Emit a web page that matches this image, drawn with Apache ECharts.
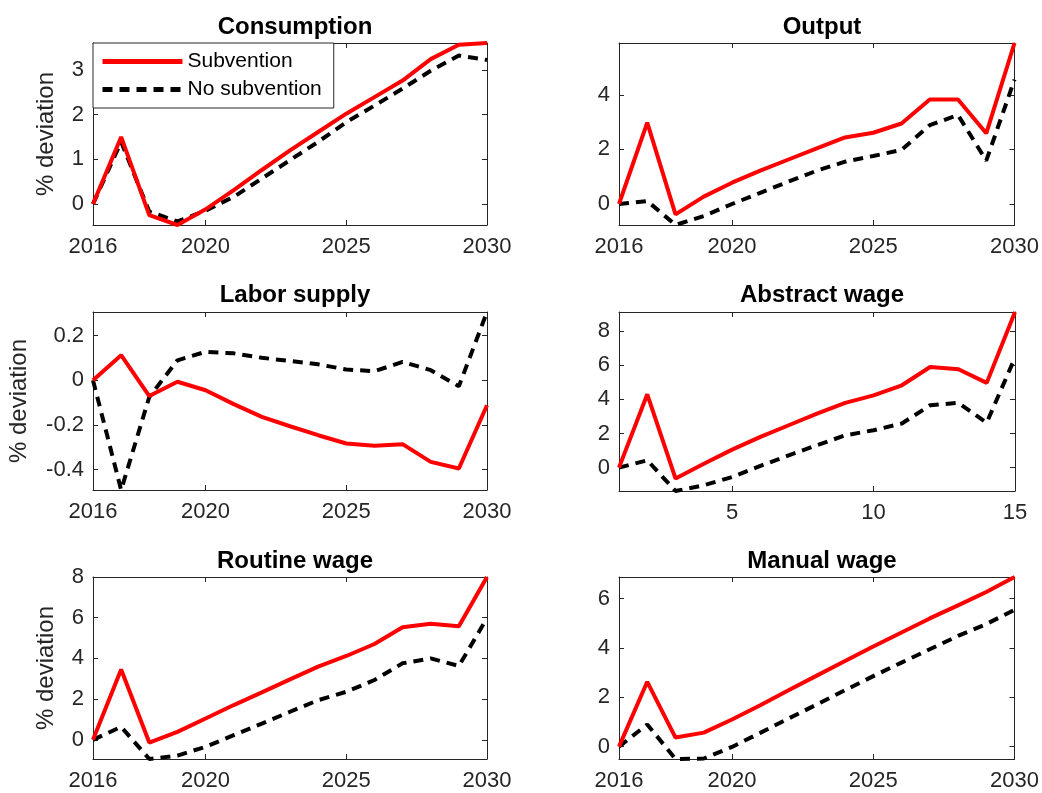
<!DOCTYPE html>
<html>
<head>
<meta charset="utf-8">
<script src="https://cdn.jsdelivr.net/npm/echarts@6/dist/echarts.min.js"></script>
<style>
  html, body { margin: 0; padding: 0; background: #fff; }
  #main { width: 1042px; height: 793px; }
</style>
</head>
<body>
<div id="main"></div>
<script>
// x values
const years = [2016, 2017, 2018, 2019, 2020, 2021, 2022, 2023, 2024, 2025, 2026, 2027, 2028, 2029, 2030];
const periods = [1, 2, 3, 4, 5, 6, 7, 8, 9, 10, 11, 12, 13, 14, 15];
const yearTicks = [2016, 2020, 2025, 2030];
const periodTicks = [5, 10, 15];

// series values
const consumptionSub = [0, 1.5, -0.25, -0.47, -0.12, 0.31, 0.76, 1.2, 1.61, 2.02, 2.39, 2.76, 3.24, 3.56, 3.6];
const consumptionNoSub = [0, 1.39, -0.17, -0.39, -0.15, 0.16, 0.57, 0.98, 1.39, 1.83, 2.2, 2.58, 2.98, 3.32, 3.22];
const outputSub = [0, 2.98, -0.38, 0.27, 0.78, 1.22, 1.63, 2.04, 2.44, 2.61, 2.95, 3.83, 3.83, 2.59, 5.9];
const outputNoSub = [0, 0.11, -0.77, -0.44, 0.0, 0.41, 0.82, 1.22, 1.55, 1.76, 1.98, 2.89, 3.26, 1.59, 4.56];
const laborSub = [0, 0.112, -0.071, -0.007, -0.045, -0.107, -0.164, -0.206, -0.246, -0.283, -0.293, -0.286, -0.365, -0.395, -0.112];
const laborNoSub = [0, -0.491, -0.075, 0.089, 0.127, 0.12, 0.1, 0.086, 0.071, 0.048, 0.04, 0.082, 0.045, -0.027, 0.305];
const abstractSub = [0, 4.29, -0.64, 0.23, 1.05, 1.8, 2.48, 3.16, 3.79, 4.23, 4.82, 5.89, 5.76, 4.96, 9.11];
const abstractNoSub = [0, 0.43, -1.37, -1.03, -0.55, 0.1, 0.72, 1.31, 1.89, 2.19, 2.58, 3.65, 3.79, 2.63, 6.44];
const routineSub = [0, 3.46, -0.13, 0.39, 1.05, 1.71, 2.33, 2.97, 3.6, 4.12, 4.71, 5.53, 5.7, 5.58, 8.0];
const routineNoSub = [0, 0.64, -0.94, -0.77, -0.34, 0.23, 0.8, 1.38, 1.95, 2.36, 2.94, 3.76, 4.0, 3.63, 5.98];
const manualSub = [0, 2.63, 0.37, 0.57, 1.1, 1.68, 2.29, 2.88, 3.47, 4.06, 4.63, 5.2, 5.73, 6.27, 6.88];
const manualNoSub = [0, 0.9, -0.5, -0.48, -0.01, 0.56, 1.14, 1.71, 2.29, 2.86, 3.41, 3.95, 4.49, 4.97, 5.55];

// panel titles and y tick labels
const titles = ['Consumption', 'Output', 'Labor supply', 'Abstract wage', 'Routine wage', 'Manual wage'];
const yTicks = [
  [0, 1, 2, 3],
  [0, 2, 4],
  [-0.4, -0.2, 0, 0.2],
  [0, 2, 4, 6, 8],
  [0, 2, 4, 6, 8],
  [0, 2, 4, 6]
];
const yLimits = [[-0.47, 3.6], [-0.77, 5.9], [-0.491, 0.305], [-1.37, 9.11], [-0.94, 8.0], [-0.5, 6.88]];

const panels = [
  { x: years, xTicks: yearTicks, sub: consumptionSub, noSub: consumptionNoSub },
  { x: years, xTicks: yearTicks, sub: outputSub, noSub: outputNoSub },
  { x: years, xTicks: yearTicks, sub: laborSub, noSub: laborNoSub },
  { x: periods, xTicks: periodTicks, sub: abstractSub, noSub: abstractNoSub },
  { x: years, xTicks: yearTicks, sub: routineSub, noSub: routineNoSub },
  { x: years, xTicks: yearTicks, sub: manualSub, noSub: manualNoSub }
];

const grids = [
  { left: 93, top: 43, width: 394, height: 182 },
  { left: 619, top: 43, width: 396, height: 182 },
  { left: 93, top: 312, width: 394, height: 178 },
  { left: 619, top: 312, width: 396, height: 179 },
  { left: 93, top: 577, width: 394, height: 182 },
  { left: 619, top: 577, width: 396, height: 182 }
];
const titleTops = [10, 10, 278, 278, 544, 544];
const yNameGaps = [35, 0, 62, 0, 35, 0];

const axisColor = '#262626';
const font = 'Liberation Sans, Arial, Helvetica, sans-serif';

let xAxes = [], yAxes = [], series = [], titleList = [];
panels.forEach((p, i) => {
  const g = grids[i];
  const xMin = p.x[0], xMax = p.x[p.x.length - 1];
  const lineCfg = { show: true, onZero: false, lineStyle: { color: axisColor, width: 1 } };
  // bottom axis with labels
  xAxes.push({
    type: 'value', gridIndex: i, min: xMin, max: xMax, position: 'bottom',
    axisLine: lineCfg,
    axisTick: { show: true, inside: true, length: 5, customValues: p.xTicks, lineStyle: { color: axisColor } },
    axisLabel: {
      show: true, customValues: p.xTicks, color: axisColor, fontSize: 22, fontFamily: font, margin: 11,
      formatter: (v) => String(v)
    },
    splitLine: { show: false }
  });
  // top mirror
  xAxes.push({
    type: 'value', gridIndex: i, min: xMin, max: xMax, position: 'top',
    axisLine: lineCfg,
    axisTick: { show: true, inside: true, length: 5, customValues: p.xTicks, lineStyle: { color: axisColor } },
    axisLabel: { show: false },
    splitLine: { show: false }
  });
  const yl = yLimits[i];
  yAxes.push({
    type: 'value', gridIndex: i, min: yl[0], max: yl[1], position: 'left',
    name: i % 2 === 0 ? '% deviation' : '',
    nameLocation: 'middle', nameGap: yNameGaps[i],
    nameTextStyle: { color: axisColor, fontSize: 24, fontFamily: font },
    axisLine: lineCfg,
    axisTick: { show: true, inside: true, length: 5, customValues: yTicks[i], lineStyle: { color: axisColor } },
    axisLabel: {
      show: true, customValues: yTicks[i], color: axisColor, fontSize: 22, fontFamily: font, margin: 9,
      formatter: (v) => String(v)
    },
    splitLine: { show: false }
  });
  yAxes.push({
    type: 'value', gridIndex: i, min: yl[0], max: yl[1], position: 'right',
    axisLine: lineCfg,
    axisTick: { show: true, inside: true, length: 5, customValues: yTicks[i], lineStyle: { color: axisColor } },
    axisLabel: { show: false },
    splitLine: { show: false }
  });
  titleList.push({
    text: titles[i],
    left: g.left + g.width / 2, top: titleTops[i], textAlign: 'center',
    textStyle: { color: '#000', fontSize: 24, fontWeight: 'bold', fontFamily: font }
  });
  series.push({
    name: 'Subvention', type: 'line', xAxisIndex: i * 2, yAxisIndex: i * 2,
    data: p.x.map((x, k) => [x, p.sub[k]]),
    showSymbol: false, symbol: 'none', z: 3,
    lineStyle: { color: '#ff0000', width: 4, type: 'solid' },
    itemStyle: { color: '#ff0000' }
  });
  series.push({
    name: 'No subvention', type: 'line', xAxisIndex: i * 2, yAxisIndex: i * 2,
    data: p.x.map((x, k) => [x, p.noSub[k]]),
    showSymbol: false, symbol: 'none', z: 2,
    lineStyle: { color: '#000000', width: 4, type: [10, 7] },
    itemStyle: { color: '#000000' }
  });
});

const chart = echarts.init(document.getElementById('main'), null, { renderer: 'canvas' });
chart.setOption({
  backgroundColor: '#fff',
  animation: false,
  title: titleList,
  grid: grids,
  xAxis: xAxes,
  yAxis: yAxes,
  legend: {
    data: ['Subvention', 'No subvention'],
    orient: 'vertical', left: 93, top: 43,
    backgroundColor: '#fff', borderColor: axisColor, borderWidth: 1, borderRadius: 0,
    padding: [8, 12, 8, 7], itemGap: 7, itemWidth: 80, itemHeight: 14,
    itemStyle: { opacity: 0 },
    lineStyle: { width: 5 },
    textStyle: { color: '#000', fontSize: 21, fontFamily: font },
    z: 10
  },
  series: series
});
</script>
</body>
</html>
